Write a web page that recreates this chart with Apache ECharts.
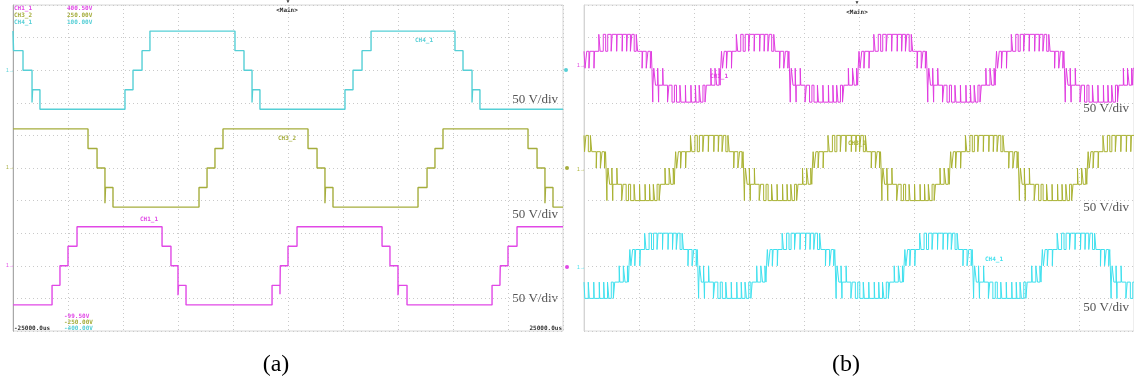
<!DOCTYPE html>
<html><head><meta charset="utf-8">
<script src="https://cdn.jsdelivr.net/npm/echarts@6/dist/echarts.min.js"></script>
<style>html,body{margin:0;padding:0;background:#fff}#c{width:1134px;height:389px}</style>
</head><body><div id="c"></div><script>
// Panel (a): staircase phase voltages, [time ms, level index] (level holds until next entry)
const ch4A = [[-25,2],[-24.95,1],[-24.09,0],[-23.27,-1.65],[-23.22,-1],[-22.55,-2],[-14.82,-1],[-14.09,0],[-13.27,1],[-12.55,2],
  [-4.82,1],[-4.0,0],[-3.27,-1.65],[-3.22,-1],[-2.55,-2],[5.18,-1],[5.91,0],[6.73,1],[7.55,2],[15.18,1],[15.91,0],[16.73,-1.65],[16.78,-1],[17.45,-2],[25,-2]];
const ch3A = [[-25,2],[-18.18,1],[-17.36,0],[-16.64,-1.8],[-16.59,-1],[-15.91,-2],[-8.09,-1],[-7.36,0],[-6.64,1],[-5.91,2],
  [1.82,1],[2.64,0],[3.36,-1.8],[3.41,-1],[4.09,-2],[11.82,-1],[12.64,0],[13.36,1],[14.09,2],[21.82,1],[22.64,0],[23.36,-1.8],[23.41,-1],[24.09,-2],[25,-2]];
const ch1A = [[-25,-2],[-21.45,-1],[-20.73,0],[-20.0,1],[-19.18,2],[-11.45,1],[-10.64,0],[-10.0,-1.5],[-9.95,-1],[-9.27,-2],
  [-1.45,-1],[-0.73,-1.45],[-0.70,0],[0,1],[0.82,2],[8.55,1],[9.27,0],[10.0,-1.5],[10.05,-1],[10.82,-2],[18.55,-1],[19.27,-0.75],[19.30,0],[20.0,1],[20.82,2],[25,2]];

// Panel (b): one 20 ms cycle of the PWM multilevel output, [time ms, level index]
const pwmCycle = [
  [0.00,1],[0.15,0],[0.40,1],[0.72,0],[0.85,1],[1.45,0],[1.53,1],
  [2.15,2],[2.35,1],[2.80,2],[3.15,1],[3.45,2],[3.95,1],[4.10,2],[4.75,1],[4.82,2],[5.55,1],[5.62,2],[6.20,1],[6.30,2],[6.75,1],[6.95,2],[7.30,1],[7.60,2],[7.80,1],
  [8.45,0],[8.53,1],[9.05,0],[9.30,1],[9.65,0],[9.80,1],[9.88,0],
  [10.00,-2],[10.03,-1],[10.15,0],[10.40,-1],[10.72,0],[10.85,-2],[10.88,-1],[11.45,0],[11.53,-1],
  [12.15,-2],[12.35,-1],[12.80,-2],[13.15,-1],[13.45,-2],[13.95,-1],[14.10,-2],[14.75,-1],[14.82,-2],[15.55,-1],[15.62,-2],[16.20,-1],[16.30,-2],[16.75,-1],[16.95,-2],[17.30,-1],[17.60,-2],[17.80,-1],
  [18.45,0],[18.53,-1],[19.05,0],[19.30,-1],[19.65,0],[19.80,-1],[19.88,0]
];
const pwmPeriod = 20;
const phaseB = {ch1: 0, ch4: 6.67, ch3: 13.33};

// volts per level step and channel ground offsets (V)
const stepA = 30;
const stepB = {ch1: 26, ch3: 25, ch4: 25};
const groundV = {ch4A: 150, ch3A: 0, ch1A: -150, ch1B: 153, ch3B: 0, ch4B: -150};

// readout texts
const headerNames = ['CH1_1', 'CH3_2', 'CH4_1'];
const headerTop = ['400.50V', '250.00V', '100.00V'];
const headerBottom = ['-99.50V', '-250.00V', '-400.00V'];
const timeLabels = ['-25000.0us', '25000.0us'];
const scaleText = '50 V/div';

const col = {
  c1a: '#e148e6', c3a: '#a5ad3c', c4a: '#55cfd6',
  c1b: '#e03ce0', c3b: '#a9b232', c4b: '#3fe0ee'
};

function scaleSeries(arr, ground, step) { return arr.map(([t, l]) => [t, ground + l * step]); }
function tile(cycle, phase, t0, t1) {
  const pts = [];
  for (let k = -2; k <= 6; k++) for (const [t, l] of cycle) pts.push([t + phase + k * pwmPeriod, l]);
  let start = pts[0][1];
  const out = [];
  for (const [t, l] of pts) {
    if (t <= t0) { start = l; continue; }
    if (t >= t1) break;
    out.push([t, l]);
  }
  out.unshift([t0, start]);
  out.push([t1, out[out.length - 1][1]]);
  return out;
}

const GA = {left: 13, top: 5, width: 550, height: 326};
const GB = {left: 584, top: 5, width: 550, height: 326};

function axisX(idx, min, max, interval, gridColor) {
  return {gridIndex: idx, type: 'value', min, max, interval, axisLabel: {show: false}, axisTick: {show: false},
    axisLine: {show: false}, splitLine: {show: true, lineStyle: {color: gridColor, type: [1, 3], width: 1}}};
}
function axisY(idx, leftColor) {
  return {gridIndex: idx, type: 'value', min: -250, max: 250, interval: 50, axisLabel: {show: false}, axisTick: {show: false},
    axisLine: {show: true, onZero: false, lineStyle: {color: leftColor, width: 1}},
    splitLine: {show: true, lineStyle: {color: '#c9c9c9', type: [1, 3], width: 1}}};
}
function line(xi, data, color, w) {
  return {type: 'line', xAxisIndex: xi, yAxisIndex: xi, data, step: 'end', showSymbol: false, symbol: 'none',
    lineStyle: {color, width: w}, animation: false, silent: true, clip: true};
}

const tinyFont = 'bold 6px "DejaVu Sans Mono", monospace';
function txt(x, y, s, color, font, align) {
  return {type: 'text', x, y, silent: true, style: {text: s, fill: color, font: font || tinyFont, textAlign: align || 'left', textVerticalAlign: 'middle'}};
}
const serif13 = '13px "Liberation Serif", "DejaVu Serif", serif';
const serif24 = '24px "Liberation Serif", "DejaVu Serif", serif';

const graphics = [
  // panel (a) readouts
  txt(14, 8, headerNames[0], col.c1a), txt(14, 15, headerNames[1], col.c3a), txt(14, 22, headerNames[2], col.c4a),
  txt(67, 8, headerTop[0], col.c1a), txt(67, 15, headerTop[1], col.c3a), txt(67, 22, headerTop[2], col.c4a),
  txt(64, 316, headerBottom[0], col.c1a), txt(64, 322, headerBottom[1], col.c3a), txt(64, 328, headerBottom[2], col.c4a),
  txt(14, 328, timeLabels[0], '#333'), txt(562, 328, timeLabels[1], '#333', null, 'right'),
  txt(288, 2, '\u25BC', '#333', '5px sans-serif', 'center'), txt(287, 10, '<Main>', '#333', null, 'center'),
  txt(415, 40, headerNames[2], col.c4a), txt(278, 138, headerNames[1], col.c3a), txt(140, 219, headerNames[0], col.c1a),
  txt(6, 71, '1\u2192', col.c4a, '5px sans-serif'), txt(6, 168, '1\u2192', col.c3a, '5px sans-serif'), txt(6, 266, '1\u2192', col.c1a, '5px sans-serif'),
  {type: 'circle', shape: {cx: 566, cy: 70, r: 2}, style: {fill: col.c4a}, silent: true},
  {type: 'circle', shape: {cx: 567, cy: 168, r: 2}, style: {fill: col.c3a}, silent: true},
  {type: 'circle', shape: {cx: 567, cy: 267, r: 2}, style: {fill: col.c1a}, silent: true},
  txt(558, 100, scaleText, '#555', serif13, 'right'), txt(558, 215, scaleText, '#555', serif13, 'right'), txt(558, 299, scaleText, '#555', serif13, 'right'),
  txt(276, 365, '(a)', '#000', serif24, 'center'),
  // panel (b) readouts
  txt(857, 3, '\u25BC', '#333', '5px sans-serif', 'center'), txt(857, 12, '<Main>', '#333', null, 'center'),
  txt(710, 76, headerNames[0], col.c1b), txt(848, 143, headerNames[1], col.c3b), txt(985, 259, headerNames[2], col.c4b),
  txt(577, 66, '1\u2192', col.c1b, '5px sans-serif'), txt(577, 170, '1\u2192', col.c3b, '5px sans-serif'), txt(577, 268, '1\u2192', col.c4b, '5px sans-serif'),
  txt(1129, 109, scaleText, '#555', serif13, 'right'), txt(1129, 208, scaleText, '#555', serif13, 'right'), txt(1129, 308, scaleText, '#555', serif13, 'right'),
  txt(846, 365, '(b)', '#000', serif24, 'center')
];

const option = {
  animation: false,
  backgroundColor: '#fff',
  grid: [Object.assign({show: true, borderColor: '#d6d6d6', borderWidth: 1}, GA), Object.assign({show: true, borderColor: '#dcdcdc', borderWidth: 1}, GB)],
  xAxis: [axisX(0, -25, 25, 5, '#c9c9c9'), axisX(1, 0, 80, 8, '#c9c9c9')],
  yAxis: [axisY(0, '#a8a8a8'), axisY(1, '#d4d4d4')],
  series: [
    line(0, scaleSeries(ch4A, groundV.ch4A, stepA), col.c4a, 1.4),
    line(0, scaleSeries(ch3A, groundV.ch3A, stepA), col.c3a, 1.4),
    line(0, scaleSeries(ch1A, groundV.ch1A, stepA), col.c1a, 1.4),
    line(1, scaleSeries(tile(pwmCycle, phaseB.ch1, 0, 80), groundV.ch1B, stepB.ch1), col.c1b, 1),
    line(1, scaleSeries(tile(pwmCycle, phaseB.ch3, 0, 80), groundV.ch3B, stepB.ch3), col.c3b, 1),
    line(1, scaleSeries(tile(pwmCycle, phaseB.ch4, 0, 80), groundV.ch4B, stepB.ch4), col.c4b, 1)
  ],
  graphic: graphics
};
const chart = echarts.init(document.getElementById('c'), null, {renderer: 'canvas'});
chart.setOption(option);
</script></body></html>
